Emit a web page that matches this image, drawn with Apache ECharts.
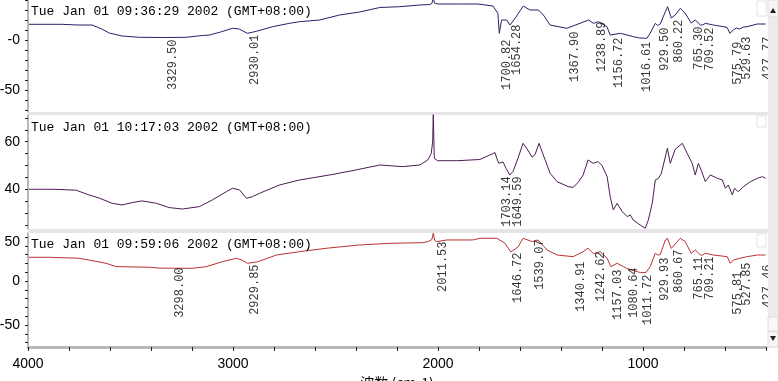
<!DOCTYPE html>
<html><head><meta charset="utf-8">
<script src="https://cdn.jsdelivr.net/npm/echarts@6/dist/echarts.min.js"></script>
<style>html,body{margin:0;padding:0;background:#fff}#c{width:778px;height:381px}</style>
</head><body><div id="c"></div><script>
const titles = [
  'Tue Jan 01 09:36:29 2002 (GMT+08:00)',
  'Tue Jan 01 10:17:03 2002 (GMT+08:00)',
  'Tue Jan 01 09:59:06 2002 (GMT+08:00)'
];
const xName = '波数 (cm-1)';
const xMin = 400, xMax = 4000, xStep = 200;

// spectrum 1 : [wavenumber, value]
const spec1 = [[3995,15.7],[3834,15.7],[3760,15],[3687,15],[3640,11],[3604,7],[3540,4],[3457,2.7],[3330,2.5],[3228,2.7],[3150,4.5],[3115,5],[3060,8],[3003,11.7],[2970,11],[2930,6.7],[2900,8],[2881,9],[2807,13.3],[2724,16.7],[2675,18.3],[2578,20],[2480,25],[2382,28],[2284,32.5],[2187,33.3],[2089,35],[2040,35.5],[2030,36.5],[2023,42],[2017,37],[2008,36.2],[2000,36],[1900,36],[1805,36],[1732,34],[1708,26.7],[1701,6.7],[1690,20],[1665,20],[1649,15],[1624,21.7],[1584,34],[1551,30],[1510,30],[1486,25],[1453,15],[1372,11.7],[1307,16.7],[1266,20],[1242,16.7],[1217,18.3],[1176,13.3],[1160,5],[1111,6.7],[1046,3.3],[1016,2],[981,1.7],[965,6.7],[940,16.7],[929,14.5],[916,16],[891,28.3],[880,33.3],[862,22],[843,25],[818,31.7],[794,26.7],[765,17],[745,20],[720,15],[709,15],[696,16.7],[657,15],[590,12.7],[576,6.7],[559,10],[545,12],[530,11],[510,13],[492,13.3],[443,16],[402,16]];

const spec2 = [[3995,40],[3873,40],[3765,39.6],[3702,37.6],[3653,36.3],[3589,34.1],[3541,33.4],[3492,34.4],[3443,35.1],[3374,34.1],[3311,32.3],[3247,31.7],[3164,32.7],[3101,35.5],[3032,39],[3003,40.4],[2969,39.8],[2934,36.2],[2905,36.9],[2871,38.3],[2773,41.8],[2675,43.9],[2529,46],[2406,48],[2284,50.2],[2172,49.5],[2089,50.2],[2050,52.3],[2033,55],[2026,60],[2023,71.5],[2020,71.5],[2018,53],[2010,52.3],[2002,52],[1903,52],[1796,52.5],[1747,54.4],[1722,55.4],[1713,53],[1703,50.9],[1683,51.5],[1668,48.8],[1650,46],[1634,47.5],[1610,53],[1585,59.3],[1566,57],[1541,53.5],[1527,54.5],[1507,59.3],[1488,54.8],[1453,46.7],[1419,43.2],[1365,41.1],[1341,40.8],[1317,42.8],[1292,46],[1268,52.3],[1243,50.9],[1219,51.6],[1200,50],[1175,45.3],[1160,36.9],[1145,31.3],[1126,34.1],[1101,30.6],[1077,28.5],[1062,29.2],[1048,27.1],[1014,25],[989,23.6],[974,27.1],[955,34.1],[940,43.9],[926,44.5],[911,46.5],[881,57.2],[867,50.9],[843,56.8],[808,59.3],[784,55],[760,50.9],[745,46],[730,50.9],[716,48],[696,43.2],[672,46],[637,44.6],[613,43.9],[598,40.4],[584,41.8],[564,37.6],[554,40.4],[535,39],[510,41.1],[476,43.2],[442,44.6],[417,45.3],[402,44.6]];

const spec3 = [[3995,26.9],[3897,26.9],[3751,25.8],[3687,23.1],[3619,20.1],[3570,16.3],[3409,15.6],[3360,14.6],[3198,14.4],[3130,16.3],[3052,21.9],[2983,25.8],[2954,23.5],[2930,20.1],[2886,21.5],[2871,22.5],[2788,29.5],[2675,33.3],[2543,37.2],[2382,40.9],[2235,42.8],[2074,43.5],[2050,44.7],[2030,47],[2023,54.2],[2016,46],[2006,44.7],[1957,46.6],[1830,46.6],[1796,48.5],[1713,48.5],[1673,42.8],[1645,33],[1610,38.5],[1585,48.5],[1540,44.7],[1512,46.6],[1468,35.2],[1419,29.5],[1341,27.6],[1292,33.3],[1268,37.2],[1242,31],[1209,33.3],[1175,25.8],[1157,16.3],[1126,20.1],[1096,16.3],[1080,14.4],[1028,10.6],[1011,9.4],[985,9.8],[965,16.3],[940,31.5],[929,29.5],[916,30],[891,46.6],[881,48.5],[862,37],[843,42],[818,48.5],[794,44.7],[765,31.5],[745,35.2],[720,29.5],[709,29.5],[696,31.5],[657,29.5],[589,27.6],[575,20.1],[559,23.8],[528,25.8],[492,27.6],[442,29.5],[402,29.5]];

// peak annotations: [wavenumber, value where the label starts]
const peaks1 = [[3329.50,0],[2930.01,5],[1700.82,0],[1654.28,15],[1367.90,8],[1238.89,18],[1156.72,2],[1016.61,-2],[929.50,12],[860.22,20],[765.30,13],[709.52,12],[575.79,-2],[529.63,3],[427.77,3]];
const peaks2 = [[1703.14,45.2],[1649.59,45.2]];
const peaks3 = [[3298.00,14.8],[2929.85,18.2],[2011.53,44.3],[1646.72,31.8],[1539.07,46.6],[1340.91,21.6],[1242.62,33],[1157.03,12.5],[1080.64,14.8],[1011.72,6.8],[929.93,26.1],[860.67,35.2],[765.11,27.3],[709.21,27.3],[575.81,10.2],[527.85,20.5],[427.46,18.2]];

// y axes
const yRange1 = [-72, 40], yTicks1 = [-70,-60,-50,-40,-30,-20,-10,0,10,20,30,40], yLabels1 = [-50, 0];
const yRange2 = [23.3, 71.2], yTicks2 = [25,30,35,40,45,50,55,60,65,70], yLabels2 = [40, 60];
const yRange3 = [-75, 54.5], yTicks3 = [-70,-60,-50,-40,-30,-20,-10,0,10,20,30,40,50], yLabels3 = [-50, 0, 50];

const colors = ['#23236a', '#4d1a55', '#b83232'];
const grids = [{top:0,height:112},{top:115,height:114},{top:233,height:114}];

const chart = echarts.init(document.getElementById('c'), null, {renderer:'canvas'});
const labelFont = {fontFamily:'Liberation Sans', fontSize:14, color:'#000'};

function yAxis(i, range, ticks, labels, fmt){
  return {
    gridIndex:i, type:'value', min:range[0], max:range[1],
    axisLine:{show:true, onZero:false, lineStyle:{color:'#b8b8b8', width:2}},
    axisTick:{show:true, length:3, customValues:ticks, lineStyle:{color:'#222'}},
    axisLabel:Object.assign({customValues:labels, margin:8, formatter:fmt, rich:{s:{padding:[10,0,0,0]}}}, labelFont),
    splitLine:{show:false}
  };
}
function xAxis(i, show){
  const a = {gridIndex:i, type:'value', min:xMin, max:xMax, interval:xStep, inverse:true, splitLine:{show:false}};
  if (!show) { a.show = false; return a; }
  return Object.assign(a, {
    position:'bottom',
    axisLine:{show:true, onZero:false, lineStyle:{color:'#b8b8b8', width:3}},
    axisTick:{show:true, length:4, lineStyle:{color:'#222'}},
    axisLabel:Object.assign({interval:0, margin:10, formatter:v => (v % 1000 === 0 ? String(v) : '')}, labelFont),
    name:xName, nameLocation:'middle', nameGap:29,
    nameTextStyle:{fontFamily:'Noto Sans CJK SC', fontSize:14, color:'#000', verticalAlign:'top'}
  });
}
function peakSeries(i, peaks){
  return {
    type:'scatter', xAxisIndex:i, yAxisIndex:i, symbolSize:1, itemStyle:{color:'rgba(0,0,0,0)'},
    silent:true, z:5,
    data:peaks.map(p => ({value:[p[0], p[1]], name:p[0].toFixed(2)})),
    label:{show:true, formatter:p => p.name, rotate:90, position:[2,0], align:'right', verticalAlign:'top',
      fontFamily:'Liberation Mono', fontSize:12, color:'#000'}
  };
}
function lineSeries(i, data){
  return {type:'line', xAxisIndex:i, yAxisIndex:i, data:data, showSymbol:false, symbol:'none',
    lineStyle:{color:colors[i], width:1}, clip:true, z:3};
}

const graphic = [
  {type:'rect', shape:{x:28, y:112, width:740, height:3}, style:{fill:'#e6e6e6'}, z:1},
  {type:'rect', shape:{x:28, y:229, width:740, height:4}, style:{fill:'#e6e6e6'}, z:1},
  {type:'rect', shape:{x:757, y:1, width:9, height:15}, style:{fill:'none', stroke:'#e2e2e2'}, z:1},
  {type:'rect', shape:{x:757, y:116, width:9, height:11}, style:{fill:'none', stroke:'#e2e2e2'}, z:1},
  {type:'rect', shape:{x:757, y:234, width:9, height:13}, style:{fill:'none', stroke:'#e2e2e2'}, z:1},
  // scroll bar
  {type:'rect', shape:{x:768, y:0, width:10, height:348}, style:{fill:'#ececec'}, z:100},
  {type:'rect', shape:{x:768, y:0, width:10, height:17}, style:{fill:'#f6f6f6', stroke:'#dddddd'}, z:101},
  {type:'polygon', shape:{points:[[770,13],[776,13],[773,8]]}, style:{fill:'#222'}, z:102},
  {type:'rect', shape:{x:768, y:317, width:10, height:14}, style:{fill:'#f8f8f8', stroke:'#dddddd'}, z:101},
  {type:'rect', shape:{x:768, y:332, width:10, height:15}, style:{fill:'#f6f6f6', stroke:'#dddddd'}, z:101},
  {type:'polygon', shape:{points:[[770,336],[776,336],[773,341]]}, style:{fill:'#222'}, z:102}
];
const titleY = [12, 128, 245];
titles.forEach((t, i) => graphic.push({type:'text', x:31, y:titleY[i], z:10,
  style:{text:t, font:'13px "Liberation Mono"', fill:'#000', verticalAlign:'middle', textVerticalAlign:'middle'}}));

chart.setOption({
  animation:false,
  backgroundColor:'#fff',
  grid:grids.map(g => ({left:28, right:12, top:g.top, height:g.height, containLabel:false, outerBoundsMode:'none'})),
  xAxis:[xAxis(0,false), xAxis(1,false), xAxis(2,true)],
  yAxis:[
    yAxis(0, yRange1, yTicks1, yLabels1, v => (v === 0 ? '-0' : String(v))),
    yAxis(1, yRange2, yTicks2, yLabels2, v => String(v)),
    yAxis(2, yRange3, yTicks3, yLabels3, v => (v === 50 ? '{s|50}' : String(v)))
  ],
  series:[lineSeries(0, spec1), lineSeries(1, spec2), lineSeries(2, spec3),
    peakSeries(0, peaks1), peakSeries(1, peaks2), peakSeries(2, peaks3)],
  graphic:graphic
});
</script></body></html>
